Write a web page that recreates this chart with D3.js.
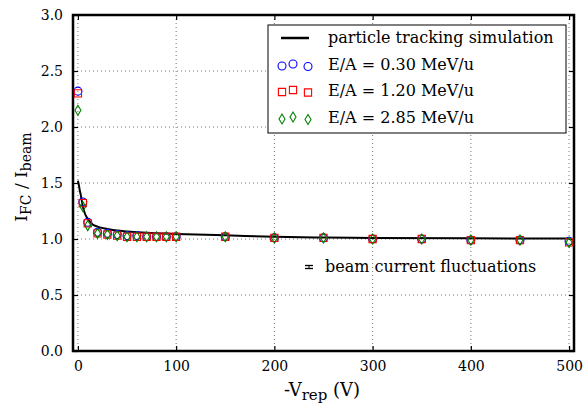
<!DOCTYPE html>
<html>
<head>
<meta charset="utf-8">
<script src="https://cdn.jsdelivr.net/npm/d3@7"></script>
<style>
  body { margin: 0; background: #fff; }
  text { font-family: "DejaVu Serif", "Liberation Serif", serif; fill: #000; }
</style>
</head>
<body>
<div id="chart"></div>
<script>
// simulation curve
const simV = [0, 1, 2, 3, 4, 5, 7, 10, 15, 20, 30, 40, 50, 70, 100, 150, 200, 250, 300, 400, 500];
const simRatio = [1.52, 1.48, 1.43, 1.39, 1.34, 1.29, 1.23, 1.18, 1.13, 1.11, 1.09, 1.075, 1.068, 1.056, 1.045, 1.033, 1.02, 1.013, 1.01, 1.006, 1.005];

// measured points
const measV = [0, 5, 10, 20, 30, 40, 50, 60, 70, 80, 90, 100, 150, 200, 250, 300, 350, 400, 450, 500];
const ratio030 = [2.32, 1.33, 1.15, 1.06, 1.05, 1.04, 1.03, 1.03, 1.02, 1.02, 1.02, 1.02, 1.02, 1.01, 1.01, 1.00, 1.00, 0.99, 0.99, 0.98];
const ratio120 = [2.30, 1.32, 1.14, 1.05, 1.04, 1.03, 1.02, 1.02, 1.02, 1.02, 1.02, 1.02, 1.02, 1.01, 1.01, 1.00, 1.00, 0.99, 0.99, 0.97];
const ratio285 = [2.15, 1.29, 1.12, 1.05, 1.04, 1.03, 1.02, 1.02, 1.02, 1.02, 1.02, 1.02, 1.02, 1.01, 1.01, 1.00, 1.00, 0.99, 0.99, 0.97];

const xTicks = [0, 100, 200, 300, 400, 500];
const yTicks = [0.0, 0.5, 1.0, 1.5, 2.0, 2.5, 3.0];

const legendLabels = ["particle tracking simulation", "E/A = 0.30 MeV/u", "E/A = 1.20 MeV/u", "E/A = 2.85 MeV/u"];

const W = 584, H = 407;
const margin = {top: 15, right: 10, bottom: 56, left: 73};
const width = W - margin.left - margin.right;
const height = H - margin.top - margin.bottom;

const svg = d3.select("#chart").append("svg")
    .attr("width", W)
    .attr("height", H);

const g = svg.append("g")
    .attr("transform", "translate(" + margin.left + "," + margin.top + ")");

const x = d3.scaleLinear().domain([-5, 505]).range([0, width]);
const y = d3.scaleLinear().domain([0, 3]).range([height, 0]);

// grid
g.append("g").selectAll("line").data(xTicks).join("line")
    .attr("x1", d => x(d)).attr("x2", d => x(d))
    .attr("y1", 0).attr("y2", height)
    .attr("stroke", "#777").attr("stroke-width", 1).attr("stroke-dasharray", "1,3");
g.append("g").selectAll("line").data(yTicks).join("line")
    .attr("x1", 0).attr("x2", width)
    .attr("y1", d => y(d)).attr("y2", d => y(d))
    .attr("stroke", "#777").attr("stroke-width", 1).attr("stroke-dasharray", "1,3");

// axes (ticks inward, all four sides)
const xAxis = g.append("g").attr("transform", "translate(0," + height + ")")
    .call(d3.axisBottom(x).tickValues(xTicks).tickSizeInner(-5).tickSizeOuter(0).tickPadding(10).tickFormat(d3.format("d")));
const xAxisTop = g.append("g")
    .call(d3.axisTop(x).tickValues(xTicks).tickSizeInner(-5).tickSizeOuter(0).tickFormat(""));
const yAxis = g.append("g")
    .call(d3.axisLeft(y).tickValues(yTicks).tickSizeInner(-5).tickSizeOuter(0).tickPadding(10).tickFormat(d3.format(".1f")));
const yAxisRight = g.append("g").attr("transform", "translate(" + width + ",0)")
    .call(d3.axisRight(y).tickValues(yTicks).tickSizeInner(-5).tickSizeOuter(0).tickFormat(""));

[xAxis, xAxisTop, yAxis, yAxisRight].forEach(a => {
    a.select(".domain").remove();
    a.selectAll(".tick line").attr("stroke", "#000").attr("stroke-width", 1.2);
    a.selectAll(".tick text").style("font-size", "14px").style("font-family", "DejaVu Serif, serif");
});

g.append("rect")
    .attr("width", width).attr("height", height)
    .attr("fill", "none").attr("stroke", "#000").attr("stroke-width", 2.5);

// simulation line
const line = d3.line().x((d, i) => x(simV[i])).y(d => y(d)).curve(d3.curveMonotoneX);
g.append("path").datum(simRatio)
    .attr("d", line)
    .attr("fill", "none").attr("stroke", "#000").attr("stroke-width", 2);

// markers
const circleSym = d3.symbol().type(d3.symbolCircle).size(50);
const squareSym = d3.symbol().type(d3.symbolSquare).size(52);
const diamondPath = "M0,-5L3,0L0,5L-3,0Z";

function drawSeries(vals, color, path) {
    g.append("g").selectAll("path").data(vals).join("path")
        .attr("d", path)
        .attr("transform", (d, i) => "translate(" + x(measV[i]) + "," + y(d) + ")")
        .attr("fill", "none").attr("stroke", color).attr("stroke-width", 1.1);
}
drawSeries(ratio030, "#0000ff", circleSym());
drawSeries(ratio120, "#ff0000", squareSym());
drawSeries(ratio285, "#008000", diamondPath);

// legend
const leg = g.append("g").attr("transform", "translate(" + (268 - margin.left) + "," + (25 - margin.top) + ")");
leg.append("rect").attr("width", 298).attr("height", 108)
    .attr("fill", "#fff").attr("stroke", "#000").attr("stroke-width", 1);
const rowY = [13, 40, 66, 93];
leg.append("line").attr("x1", 13).attr("x2", 41).attr("y1", rowY[0]).attr("y2", rowY[0])
    .attr("stroke", "#000").attr("stroke-width", 2.5);
const legMarkers = [[circleSym(), "#0000ff"], [squareSym(), "#ff0000"], [diamondPath, "#008000"]];
const offX = [14, 25, 40];
const offY = [1, -1, 1.5];
legMarkers.forEach((m, k) => {
    offX.forEach((ox, j) => {
        leg.append("path").attr("d", m[0])
            .attr("transform", "translate(" + ox + "," + (rowY[k + 1] + offY[j]) + ")")
            .attr("fill", "none").attr("stroke", m[1]).attr("stroke-width", 1.1);
    });
});
leg.selectAll("text.lab").data(legendLabels).join("text")
    .attr("class", "lab")
    .attr("x", 60).attr("y", (d, i) => rowY[i] + 5)
    .style("font-size", "16px")
    .text(d => d);

// annotation: beam current fluctuations
const ann = g.append("g").attr("transform", "translate(" + (309 - margin.left) + "," + (267 - margin.top) + ")");
ann.append("line").attr("x1", 0).attr("x2", 0).attr("y1", -2).attr("y2", 2).attr("stroke", "#000").attr("stroke-width", 1);
ann.append("line").attr("x1", -4).attr("x2", 4).attr("y1", -1.5).attr("y2", -1.5).attr("stroke", "#000").attr("stroke-width", 1.3);
ann.append("line").attr("x1", -4).attr("x2", 4).attr("y1", 1.5).attr("y2", 1.5).attr("stroke", "#000").attr("stroke-width", 1.3);
ann.append("text").attr("x", 16).attr("y", 5).style("font-size", "16px").text("beam current fluctuations");

// axis labels
const xl = svg.append("text").attr("x", 322).attr("y", 396).attr("text-anchor", "middle").style("font-size", "18px");
xl.append("tspan").text("-V");
xl.append("tspan").attr("dy", 4).style("font-size", "15px").text("rep");
xl.append("tspan").attr("dy", -4).text(" (V)");

const yl = svg.append("text").attr("transform", "translate(27,177) rotate(-90)").attr("text-anchor", "middle").style("font-size", "17px");
yl.append("tspan").text("I");
yl.append("tspan").attr("dy", 4).style("font-size", "14px").text("FC");
yl.append("tspan").attr("dy", -4).text(" / I");
yl.append("tspan").attr("dy", 4).style("font-size", "14px").text("beam");
</script>
</body>
</html>
